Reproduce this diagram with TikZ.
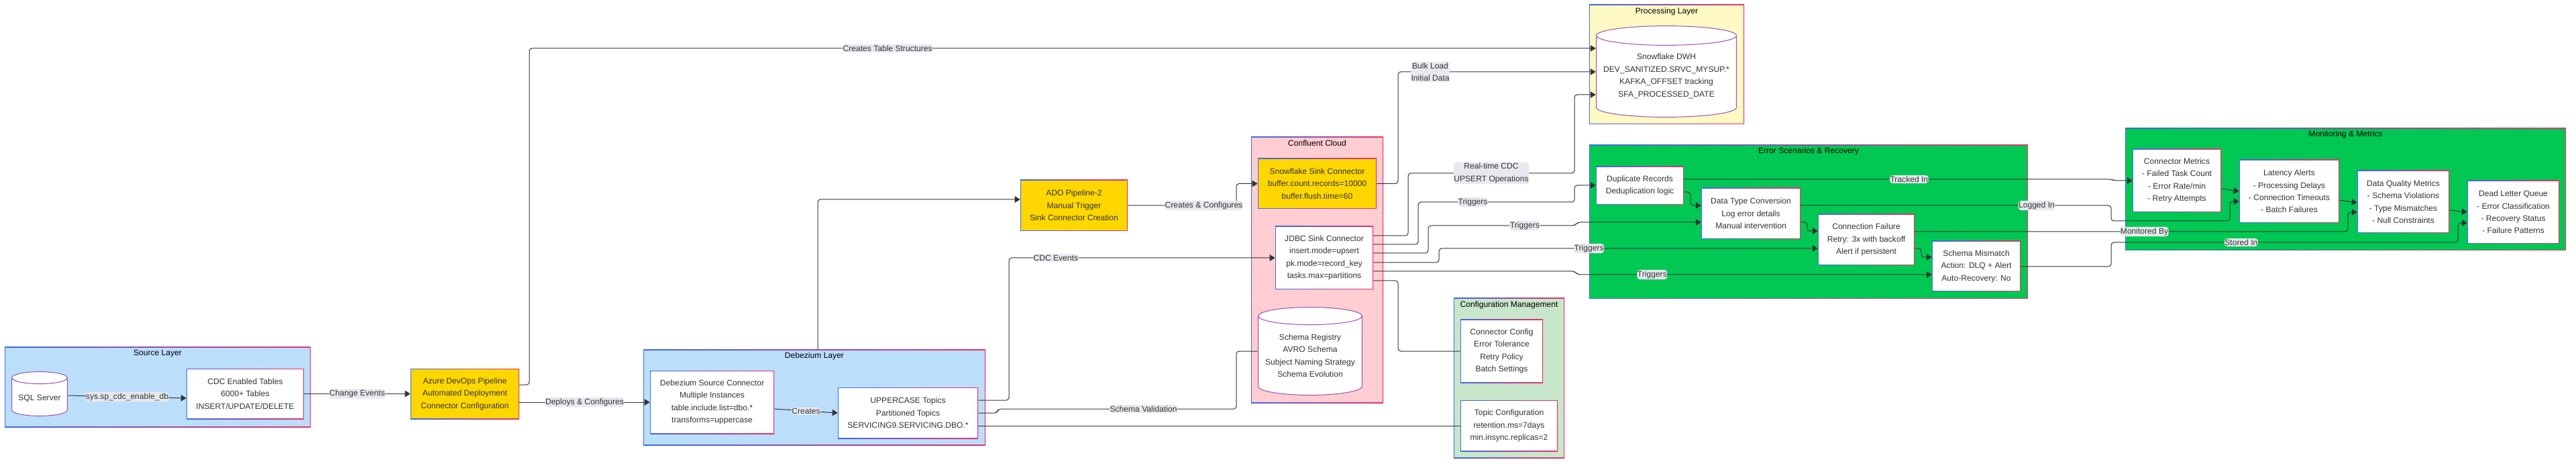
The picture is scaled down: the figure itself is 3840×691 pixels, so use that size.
\documentclass[tikz,border=0pt]{standalone}
\usepackage{fontspec}
\setmainfont{Liberation Sans}
\usetikzlibrary{arrows.meta,calc}

\definecolor{layerblue}{HTML}{BBDEFB}
\definecolor{procyellow}{HTML}{FFF9C4}
\definecolor{confpink}{HTML}{FFCDD2}
\definecolor{cfggreen}{HTML}{C8E6C9}
\definecolor{errgreen}{HTML}{00C853}
\definecolor{golden}{HTML}{FFD700}
\definecolor{edgeblue}{HTML}{3F6AE8}
\definecolor{edgered}{HTML}{E8336B}
\definecolor{edgemix}{HTML}{9A4FB0}
\definecolor{wire}{HTML}{333333}
\definecolor{txt}{HTML}{333333}
\definecolor{lblbg}{HTML}{E8E8EF}

% pushes the text of a cylinder below its top ellipse
\newcommand\dbgap{\rule{0pt}{16pt}}

\tikzset{
  px/.style 2 args={minimum width=#1*0.25mm, minimum height=#2*0.25mm},
  gbox/.style={fill=#1, path picture={
      \shade[left color=edgeblue, right color=edgered]
        (path picture bounding box.south west) rectangle (path picture bounding box.north east);
      \fill[#1] ([shift={(0.3mm,0.3mm)}]path picture bounding box.south west)
        rectangle ([shift={(-0.3mm,-0.3mm)}]path picture bounding box.north east);}},
  layer/.style={gbox=#1, inner sep=0pt},
  box/.style={gbox=white, align=center, inner sep=0pt, text=txt},
  goldbox/.style={gbox=golden, align=center, inner sep=0pt, text=txt},
  db/.style={align=center, inner sep=0pt, text=txt, path picture={
      \filldraw[fill=white, draw=edgemix, line width=0.25mm]
        let \p1=(path picture bounding box.south west),
            \p2=(path picture bounding box.north east),
            \n1={(\x2-\x1)/2-0.15mm} in
        (\x1+0.15mm,\y2-0.15mm-#1) -- (\x1+0.15mm,\y1+0.15mm+#1)
        arc[start angle=180, end angle=360, x radius=\n1, y radius=#1]
        -- (\x2-0.15mm,\y2-0.15mm-#1)
        arc[start angle=0, end angle=180, x radius=\n1, y radius=#1] -- cycle
        (\x1+0.15mm,\y2-0.15mm-#1)
        arc[start angle=180, end angle=360, x radius=\n1, y radius=#1];}},
  ttl/.style={text=black},
  lbl/.style={fill=lblbg, text=txt, inner xsep=0.3pt, inner ysep=1pt, align=center},
  link/.style={draw=wire, line width=0.25mm, rounded corners=1mm},
}

\begin{document}
\begin{tikzpicture}[x=0.25mm, y=-0.25mm, >={Triangle[length=2mm,width=2.4mm]},
  every node/.style={font=\fontsize{8.6}{13.1}\selectfont}]
\path[use as bounding box, fill=white] (0,0) rectangle (3840,691);

% layers
\node[layer=layerblue, px={456}{119}] (srclayer) at (235,576.5) {};
\node[ttl] (srcttl) at (235,527) {Source Layer};
\node[layer=layerblue, px={510}{142}] (dbzlayer) at (1214,592) {};
\node[ttl] (dbzttl) at (1214,530) {Debezium Layer};
\node[layer=confpink, px={197}{396}] (cclayer) at (1963.5,402) {};
\node[ttl] (ccttl) at (1963.5,213) {Confluent Cloud};
\node[layer=procyellow, px={231}{178}] (proclayer) at (2484.5,96) {};
\node[ttl] (procttl) at (2484.5,17) {Processing Layer};
\node[layer=cfggreen, px={165}{238}] (cfglayer) at (2249.5,563) {};
\node[ttl] (cfgttl) at (2249.5,454) {Configuration Management};
\node[layer=errgreen, px={654}{229}] (errlayer) at (2696,330.5) {};
\node[ttl] (errttl) at (2696,225) {Error Scenarios \& Recovery};
\node[layer=errgreen, px={657}{182}] (monlayer) at (3496.5,282) {};
\node[ttl] (monttl) at (3496.5,200) {Monitoring \& Metrics};

% source and deployment
\node[db=2.25mm, px={84}{67}] (sqlsrv) at (59,586.5) {\dbgap SQL Server};
\node[box, px={175}{75}] (cdctab) at (365.5,586.5)
  {CDC Enabled Tables\\6000+ Tables\\INSERT/UPDATE/DELETE};
\node[goldbox, px={162}{75}] (azure) at (693,586.5)
  {Azure DevOps Pipeline\\Automated Deployment\\Connector Configuration};
\node[box, px={185}{94}] (dbzsrc) at (1061.5,599)
  {Debezium Source Connector\\Multiple Instances\\table.include.list=dbo.*\\transforms=uppercase};
\node[box, px={209}{76}] (topics) at (1353.5,615)
  {UPPERCASE Topics\\Partitioned Topics\\SERVICING9.SERVICING.DBO.*};
\node[goldbox, px={160}{76}] (ado) at (1601,306)
  {ADO Pipeline-2\\Manual Trigger\\Sink Connector Creation};

% confluent
\node[goldbox, px={177}{75}] (sfsink) at (1963.5,273.5)
  {Snowflake Sink Connector\\buffer.count.records=10000\\buffer.flush.time=60};
\node[box, px={146}{94}] (jdbc) at (1974,384)
  {JDBC Sink Connector\\insert.mode=upsert\\pk.mode=record\_key\\tasks.max=partitions};
\node[db=3.25mm, px={156}{132}] (schreg) at (1953,523)
  {\dbgap Schema Registry\\AVRO Schema\\Subject Naming Strategy\\Schema Evolution};

% processing and config
\node[db=3.6mm, px={210}{137}] (dwh) at (2484,106.5)
  {\dbgap Snowflake DWH\\DEV\_SANITIZED.SRVC\_MYSUP.*\\KAFKA\_OFFSET tracking\\SFA\_PROCESSED\_DATE};
\node[box, px={123}{94}] (conncfg) at (2238.5,523)
  {Connector Config\\Error Tolerance\\Retry Policy\\Batch Settings};
\node[box, px={145}{76}] (topiccfg) at (2249.5,634)
  {Topic Configuration\\retention.ms=7days\\min.insync.replicas=2};

% errors
\node[box, px={131}{57}] (dup) at (2444.5,276.5) {Duplicate Records\\Deduplication logic};
\node[box, px={148}{76}] (dtconv) at (2610,318)
  {Data Type Conversion\\Log error details\\Manual intervention};
\node[box, px={144}{76}] (connfail) at (2782,357)
  {Connection Failure\\Retry: 3x with backoff\\Alert if persistent};
\node[box, px={132}{75}] (schmis) at (2946,396.5)
  {Schema Mismatch\\Action: DLQ + Alert\\Auto-Recovery: No};

% monitoring
\node[box, px={132}{94}] (connmet) at (3245,269)
  {Connector Metrics\\- Failed Task Count\\- Error Rate/min\\- Retry Attempts};
\node[box, px={149}{94}] (latency) at (3412.5,285)
  {Latency Alerts\\- Processing Delays\\- Connection Timeouts\\- Batch Failures};
\node[box, px={137}{93}] (dqm) at (3582.5,300.5)
  {Data Quality Metrics\\- Schema Violations\\- Type Mismatches\\- Null Constraints};
\node[box, px={137}{94}] (dlq) at (3746.5,316)
  {Dead Letter Queue\\- Error Classification\\- Recovery Status\\- Failure Patterns};

% connectors
\draw[link,->] (sqlsrv.east |- 0,589) -- (cdctab.west |- 0,593)
  node[lbl,midway] (lsys) {sys.sp\_cdc\_enable\_db};
\draw[link,->] (cdctab.east) -- (azure.west)
  node[lbl,midway] (lchg) {Change Events};
\draw[link,->] (azure.east |- 0,573) -- (789,573) -- (789,72) -- (dwh.west |- 0,72)
  node[lbl,pos=0.336] (lcts) {Creates Table Structures};
\draw[link,->] (azure.east |- 0,599) -- (dbzsrc.west)
  node[lbl,midway] (ldep) {Deploys \& Configures};
\draw[link,->] (dbzsrc.east |- 0,609) -- (topics.west)
  node[lbl,midway] (lcre) {Creates};
\draw[link,->] (1219,0 |- dbzlayer.north) -- (1219,297) -- (ado.west |- 0,297);
\draw[link,->] (ado.east) -- (1843,306) node[lbl,pos=0.70] (lcrc) {Creates \& Configures}
  -- (1843,273.5) -- (sfsink.west);
\draw[link,->] (topics.east |- 0,596) -- (1504,596) -- (1504,384) -- (jdbc.west)
  node[lbl,pos=0.176] (lcdc) {CDC Events};
\draw[link] (topics.east |- 0,615) -- (1486,615) -- (1488,609) -- (1843,609)
  node[lbl,pos=0.61] (lsv) {Schema Validation} -- (1843,523) -- (schreg.west);
\draw[link] (topics.east |- 0,634) -- (topiccfg.west);
\draw[link,->] (sfsink.east) -- (2084,273.5) -- (2084,107) -- (dwh.west |- 0,107)
  node[lbl,pos=0.163] (lbulk) {Bulk Load\\Initial Data};
\draw[link,->] (jdbc.east |- 0,351) -- (2099,351) -- (2099,258) -- (2347,258)
  node[lbl,midway] (lrt) {Real-time CDC\\UPSERT Operations} -- (2347,141) -- (dwh.west |- 0,141);
\draw[link,->] (jdbc.east |- 0,364) -- (2114,364) -- (2114,301) -- (2347,301)
  node[lbl,pos=0.35] (ltr1) {Triggers} -- (2347,276) -- (dup.west |- 0,276);
\draw[link,->] (jdbc.east |- 0,377) -- (2129,377) -- (2129,336) -- (2347,336)
  node[lbl,pos=0.66] (ltr2) {Triggers} -- (2352,331) -- (dtconv.west |- 0,331);
\draw[link,->] (jdbc.east |- 0,391) -- (2145,391) -- (2145,370) -- (connfail.west |- 0,370)
  node[lbl,pos=0.396] (ltr3) {Triggers};
\draw[link,->] (jdbc.east |- 0,404) -- (2347,404) -- (2352,409) -- (schmis.west |- 0,409)
  node[lbl,pos=0.21] (ltr4) {Triggers};
\draw[link] (jdbc.east |- 0,418) -- (2084,418) -- (2084,523) -- (conncfg.west);
\draw[link,->] (dup.east |- 0,286) -- (2520,286) -- (2520,306) -- (dtconv.west |- 0,306);
\draw[link,->] (dtconv.east |- 0,331) -- (2694,331) -- (2694,344) -- (connfail.west |- 0,344);
\draw[link,->] (connfail.east |- 0,370) -- (2864,370) -- (2864,383) -- (schmis.west |- 0,383);
\draw[link,->] (dup.east |- 0,267) -- (3147,267)
  node[lbl,pos=0.527] (ltrk) {Tracked In} -- (3152,269) -- (connmet.west |- 0,269);
\draw[link,->] (dtconv.east |- 0,306) -- (3147,306)
  node[lbl,pos=0.76] (llog) {Logged In} -- (3147,329) -- (3324,329) -- (3324,300) -- (latency.west |- 0,300);
\draw[link,->] (connfail.east |- 0,345) -- (3500,345)
  node[lbl,pos=0.53] (lmon) {Monitored By} -- (3500,316) -- (dqm.west |- 0,316);
\draw[link,->] (schmis.east |- 0,397) -- (3147,397) -- (3147,361) -- (3664,361)
  node[lbl,pos=0.375] (lsto) {Stored In} -- (3664,332) -- (dlq.west |- 0,332);
\draw[link,->] (connmet.east |- 0,281) -- (latency.west |- 0,285);
\draw[link,->] (latency.east |- 0,298) -- (dqm.west |- 0,302);
\draw[link,->] (dqm.east |- 0,313) -- (dlq.west |- 0,316);
\end{tikzpicture}
\end{document}
